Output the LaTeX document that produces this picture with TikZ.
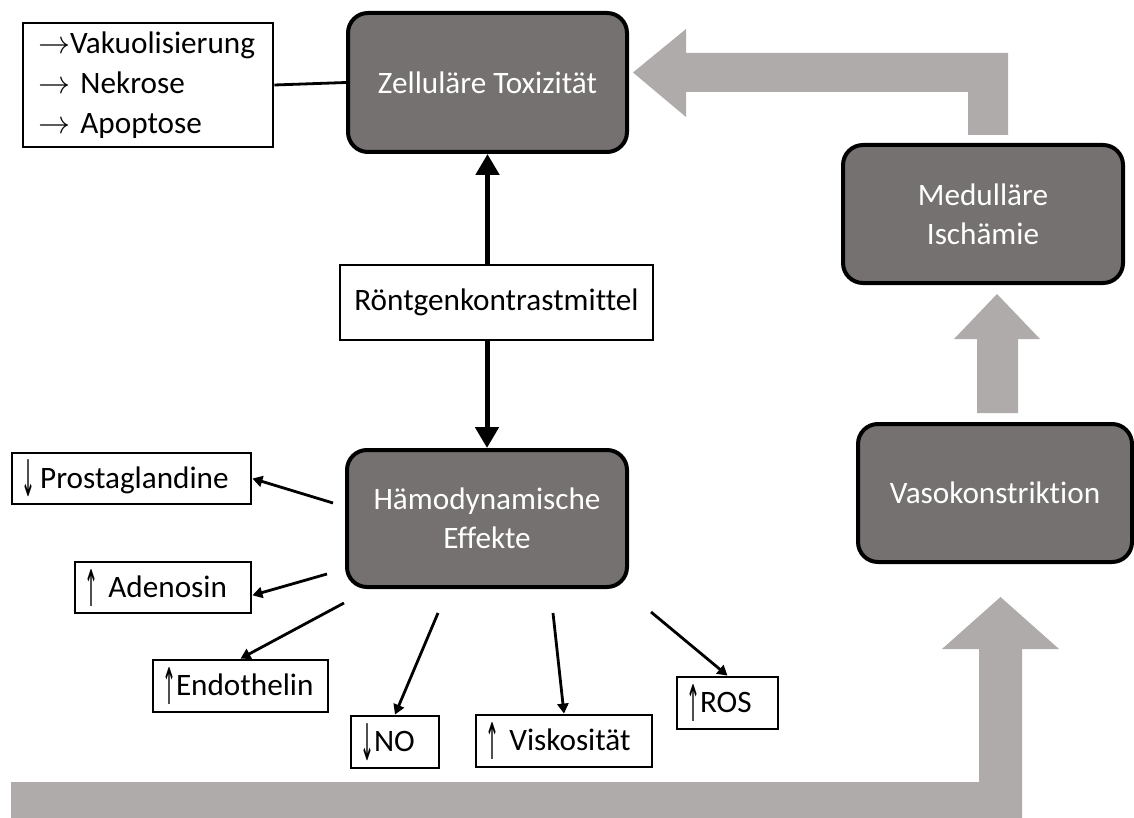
\documentclass[tikz,border=0pt]{standalone}
\usepackage{fontspec}
\setmainfont{Carlito}[Ligatures=NoCommon]
\newfontfamily\arrowfont{DejaVu Sans}
\usetikzlibrary{arrows.meta}
\definecolor{boxgray}{RGB}{117,113,112}
\definecolor{arrowgray}{RGB}{175,171,171}
\newcommand{\up}{\raisebox{-4.5pt}{\resizebox{7pt}{18.5pt}{\raisebox{\depth}{\arrowfont ↑}}}}
\newcommand{\down}{\raisebox{-4.5pt}{\resizebox{7pt}{18.5pt}{\raisebox{\depth}{\arrowfont ↓}}}}
\newcommand{\goesto}{\resizebox{16pt}{!}{$\rightarrow$}}

\begin{document}
\begin{tikzpicture}[x=0.5pt,y=-0.5pt,
		font=\fontsize{15.6}{19.5}\selectfont,
		darkbox/.style={draw, line width=2pt, rounded corners=10pt, fill=boxgray, text=white, align=center},
		whitebox/.style={draw, line width=1.4pt, fill=white, inner xsep=4.5pt, inner ysep=2pt, align=left},
		thickarrow/.style={line width=2.5pt, -{Triangle[width=11.5pt,length=10.5pt]}},
		thinarrow/.style={line width=1.4pt, -{Triangle[width=5.5pt,length=5pt]}}]
		\useasboundingbox (0,0) rectangle (1134,818);
		
		% big grey arrows
		\fill[arrowgray] (968,135) -- (968,92) -- (686,92) -- (686,117) -- (633,72.5) -- (686,29) -- (686,53) -- (1008,53) -- (1008,135) -- cycle;
		\fill[arrowgray] (977,413) -- (977,339) -- (954,339) -- (997,294) -- (1040,339) -- (1018,339) -- (1018,413) -- cycle;
		\fill[arrowgray] (11,782) -- (979,782) -- (979,649) -- (942,649) -- (1000.5,597) -- (1059,649) -- (1022,649) -- (1022,818) -- (11,818) -- cycle;
		
		% main boxes
		\node[darkbox, minimum width=139.5pt, minimum height=69.5pt] (zell) at (487.5,82.5) {Zelluläre Toxizität};
		\node[whitebox, align=center, minimum width=156.5pt, minimum height=37.5pt] (roent) at (496.5,302.5) {Röntgenkontrastmittel};
		\node[darkbox, minimum width=140pt, minimum height=68.5pt] (haem) at (487,518.5) {Hämodynamische\\Effekte};
		\node[darkbox, minimum width=140pt, minimum height=69pt] (medul) at (983,214) {Medulläre\\Ischämie};
		\node[darkbox, minimum width=137pt, minimum height=69pt] (vaso) at (995,493) {Vasokonstriktion};
		\node[whitebox, inner xsep=7.5pt, text width=110pt, minimum height=62pt, font=\fontsize{15.6}{20}\selectfont] (effects) at (148,85)
			{\goesto Vakuolisierung\\\goesto\ Nekrose\\\goesto\ Apoptose};
		\draw[line width=1.4pt] (effects.east) -- (zell.west);
		\draw[thickarrow] (roent.north -| zell.south) -- (zell.south);
		\draw[thickarrow] (roent.south -| haem.north) -- (haem.north);
		
		% effects of haemodynamics
		\node[whitebox, text width=110.5pt, minimum height=25.5pt] (prost) at (131.5,478.5) {\down\,Prostaglandine};
		\node[whitebox, text width=79pt, minimum height=25.5pt] (aden) at (163,587.5) {\up\ Adenosin};
		\node[whitebox, text width=78.5pt, minimum height=26pt] (endo) at (240.5,686) {\up Endothelin};
		\node[whitebox, text width=35pt, minimum height=26pt] (no) at (395,742) {\down NO};
		\node[whitebox, text width=79pt, minimum height=26pt] (visk) at (564,741) {\up\ Viskosität};
		\node[whitebox, text width=41.5pt, minimum height=26pt] (ros) at (727.5,703) {\up ROS};
		
		\coordinate (s1) at (333,503);
		\coordinate (s2) at (327,574);
		\coordinate (s3) at (344,603);
		\coordinate (s4) at (438,613);
		\coordinate (s5) at (553,613);
		\coordinate (s6) at (651,612);
		\draw[thinarrow] (s1) -- (prost.east);
		\draw[thinarrow] (s2) -- (aden.-5);
		\draw[thinarrow] (s3) -- (endo.north);
		\draw[thinarrow] (s4) -- (no.north);
		\draw[thinarrow] (s5) -- (visk.north);
		\draw[thinarrow] (s6) -- (ros.north);
	\end{tikzpicture}
\end{document}
